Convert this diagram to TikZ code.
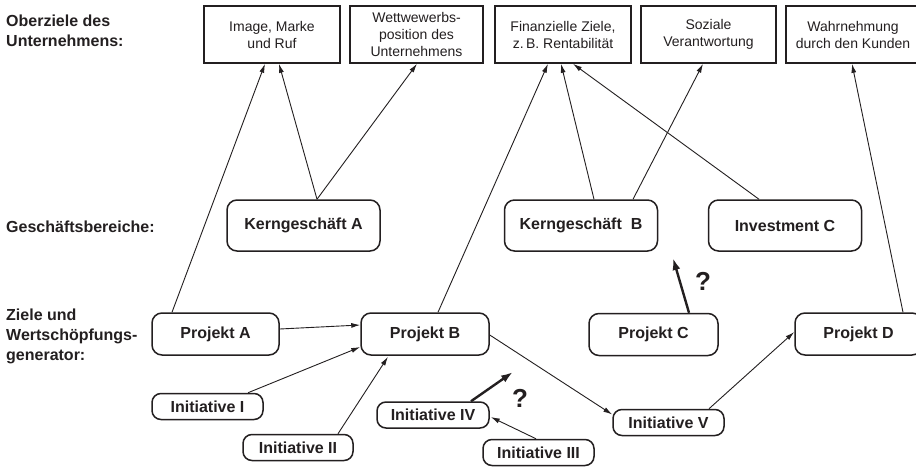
\documentclass[tikz,border=0pt]{standalone}
\usepackage{fontspec}
\setmainfont{Liberation Sans}
\usetikzlibrary{arrows.meta,calc}
\definecolor{ink}{RGB}{35,31,32}
\begin{document}
\begin{tikzpicture}[x=1pt,y=-1pt,
  every node/.style={text=ink},
  goal/.style={draw=ink, line width=1.6pt, minimum height=57pt, inner sep=0pt,
    align=center, font=\fontsize{14}{17}\selectfont},
  biz/.style={draw=ink, line width=1.5pt, rounded corners=10pt, minimum width=153pt,
    minimum height=51pt, inner sep=0pt, font=\bfseries\fontsize{16}{19}\selectfont},
  proj/.style={draw=ink, line width=1.5pt, rounded corners=10pt,
    minimum height=42pt, inner sep=0pt, font=\bfseries\fontsize{16}{19}\selectfont},
  init/.style={draw=ink, line width=1.5pt, rounded corners=9pt,
    minimum height=26pt, inner sep=0pt, font=\bfseries\fontsize{16}{19}\selectfont},
  lbl/.style={align=left, inner sep=0pt, font=\bfseries\fontsize{16}{20}\selectfont},
  conn/.style={draw=ink, line width=0.9pt, -{Latex[length=9pt,width=5pt]}},
  qarrow/.style={draw=ink, line width=2.4pt, -{Latex[length=12pt,width=8pt]}},
  qmark/.style={inner sep=0pt, font=\bfseries\fontsize{26}{30}\selectfont}
]
\clip (0,0) rectangle (916,468);
\fill[white] (0,0) rectangle (916,468);

% left labels
\node[lbl, anchor=north west] (l1) at (6,15) {Oberziele des\\Unternehmens:};
\node[lbl, anchor=base west] (l2) at (6,233) {Geschäftsbereiche:};
\node[lbl, anchor=north west] (l3) at (6,308.5) {Ziele und\\Wertschöpfungs-\\generator:};

% top goals
\node[goal, minimum width=136pt] (t1) at (272,34.5) {Image, Marke\\und Ruf};
\node[goal, minimum width=133pt] (t2) at (416.5,34.5) {Wettwewerbs-\\position des\\Unternehmens};
\node[goal, minimum width=136pt] (t3) at (563,34.5) {Finanzielle Ziele,\\z.\,B. Rentabilität};
\node[goal, minimum width=135pt] (t4) at (708.5,34.5) {Soziale\\Verantwortung};
\node[goal, minimum width=134pt] (t5) at (853,34.5) {Wahrnehmung\\durch den Kunden};

% business units
\node[biz] (ka) at (303.5,225.5) {Kerngeschäft A};
\node[biz] (kb) at (581,225.5) {Kerngeschäft\ \ B};
\node[biz] (ic) at (785,225.5) {Investment C};

% projects
\node[proj, minimum width=127pt] (pa) at (215.5,334) {Projekt A};
\node[proj, minimum width=128pt] (pb) at (425,334) {Projekt B};
\node[proj, minimum width=129pt] (pc) at (653.5,334.5) {Projekt C};
\node[proj, minimum width=127pt] (pd) at (858.5,334) {Projekt D};

% initiatives
\node[init, minimum width=111pt] (i1) at (207.5,406.5) {Initiative I};
\node[init, minimum width=110pt] (i2) at (298,447.5) {Initiative II};
\node[init, minimum width=112pt] (i4) at (433,415) {Initiative IV};
\node[init, minimum width=111pt] (i3) at (538.5,452.5) {Initiative III};
\node[init, minimum width=111pt] (i5) at (668.5,422.5) {Initiative V};

% connectors to top goals
\draw[conn] ($(pa.north)+(-43.5,0)$) -- ($(t1.south)+(-7,0)$);
\draw[conn] ($(ka.north)+(13.5,0)$) -- ($(t1.south)+(7,0)$);
\draw[conn] ($(ka.north)+(13.5,0)$) -- ($(t2.south)+(0.5,0)$);
\draw[conn] ($(pb.north)+(13,0)$) -- ($(t3.south)+(-15,0)$);
\draw[conn] ($(kb.north)+(13,0)$) -- ($(t3.south)+(-2,0)$);
\draw[conn] ($(ic.north)+(-26,0)$) -- ($(t3.south)+(10,0)$);
\draw[conn] ($(kb.north)+(52,0)$) -- ($(t4.south)+(-5.5,0)$);
\draw[conn] ($(pd.north)+(44.5,0)$) -- ($(t5.south)+(-1,0)$);

% connectors in lower part
\draw[conn] ($(pa.east)+(0,-5)$) -- ($(pb.west)+(0,-9)$);
\draw[conn] ($(i1.north)+(40.5,0)$) -- ($(pb.west)+(0,13)$);
\draw[conn] ($(i2.north)+(40,0)$) -- ($(pb.south)+(-37,1)$);
\draw[conn] ($(pb.east)+(0,1)$) -- ($(i5.west)+(0,-8)$);
\draw[conn] ($(i5.north)+(40.5,0)$) -- ($(pd.west)+(0,-2)$);
\draw[conn] ($(i3.north)+(-2.5,0)$) -- ($(i4.east)+(1,2)$);

% question arrows
\coordinate (qc) at (673,258);
\coordinate (qi) at (513,372);
\draw[qarrow] ($(pc.north)+(35.5,0)$) -- (qc);
\draw[qarrow] ($(i4.north)+(38,0)$) -- (qi);
\node[qmark] (q1) at (703,281) {?};
\node[qmark] (q2) at (520,398) {?};
\end{tikzpicture}
\end{document}
